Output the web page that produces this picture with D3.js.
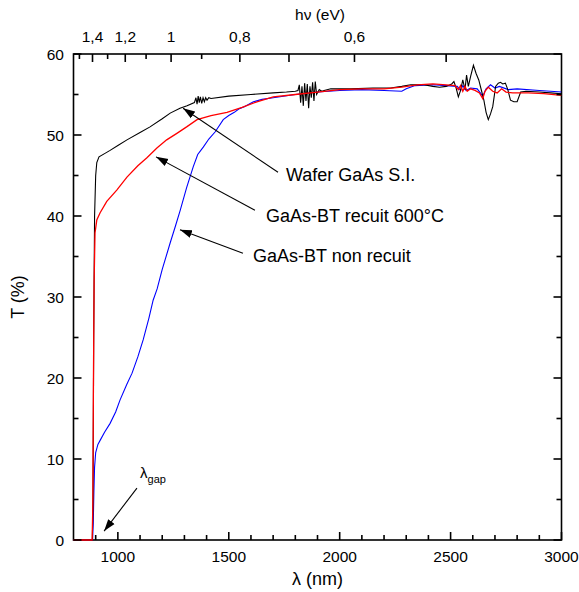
<!DOCTYPE html>
<html><head><meta charset="utf-8">
<script src="https://cdn.jsdelivr.net/npm/d3@7"></script>
<style>body{margin:0;background:#fff}svg{font-family:"Liberation Sans",Arial,sans-serif}</style>
</head><body><svg id="c" width="579" height="592"></svg>
<script>
// ---- data ----
const waferLambda = [800,885,888,891,895,900,905,915,940,965,1000,1041,1100,1145,1200,1236,1280,1312,1345,1352,1357,1362,1367,1372,1378,1384,1390,1396,1402,1410,1420,1500,1600,1700,1760,1800,1812,1818,1824,1830,1836,1842,1848,1854,1860,1866,1872,1878,1884,1890,1896,1902,1908,1914,1920,1930,1960,2050,2150,2230,2280,2320,2380,2420,2450,2480,2505,2515,2525,2535,2545,2555,2565,2572,2580,2590,2603,2615,2627,2640,2650,2660,2670,2680,2690,2703,2715,2725,2735,2747,2758,2770,2785,2800,2816,2840,2900,2950,3000];
const waferT =      [0,0,5,25,40,45,46.6,47.3,47.7,48.1,48.7,49.4,50.3,51.0,52.0,52.7,53.3,53.6,54.0,54.6,53.8,54.8,54.0,54.7,53.9,54.6,54.1,54.6,54.3,54.6,54.5,54.8,55.0,55.2,55.3,55.4,55.5,56.2,54.0,56.0,53.6,56.4,54.2,56.3,53.3,56.0,54.6,56.5,54.2,56.6,55.0,55.3,55.6,55.5,55.4,55.5,55.7,55.7,55.8,55.8,56.0,56.2,56.2,56.0,55.9,56.0,56.3,56.6,55.8,54.7,55.5,56.8,55.6,57.4,56.0,57.2,58.6,57.6,56.8,55.4,54.3,52.8,51.9,52.6,53.5,56.0,56.4,56.5,56.3,56.4,55.6,54.3,54.1,54.1,55.3,55.4,55.3,55.2,55.1];
const recuitLambda = [800,884,887,890,893,897,905,920,950,995,1041,1090,1131,1176,1220,1266,1310,1357,1420,1492,1560,1627,1700,1800,1900,2000,2100,2200,2280,2350,2420,2480,2520,2535,2545,2555,2565,2575,2590,2610,2630,2645,2655,2670,2690,2710,2730,2750,2780,2850,2920,3000];
const recuitT =      [0,0,4,20,32,37.9,39.5,40.4,41.8,43.2,44.8,46.2,47.2,48.4,49.4,50.2,51.0,51.9,52.4,52.8,53.4,54.1,54.7,55.0,55.3,55.6,55.7,55.7,55.9,56.2,56.3,56.2,56.1,55.6,56.1,55.4,56.0,55.4,55.7,55.5,55.2,54.5,55.4,55.9,55.4,55.2,55.7,55.3,55.2,55.2,55.1,54.9];
const nonRecuitLambda = [800,886,889,892,895,900,910,920,940,965,990,1010,1040,1064,1090,1114,1140,1159,1177,1200,1236,1260,1281,1310,1340,1360,1385,1410,1439,1475,1500,1525,1545,1570,1611,1650,1700,1800,1900,2000,2100,2200,2280,2300,2340,2420,2480,2530,2545,2555,2570,2590,2620,2645,2660,2680,2700,2720,2760,2800,2900,3000];
const nonRecuitT =      [0,0,2,6,9,10.8,11.8,12.3,13.3,14.4,15.8,17.3,19.2,20.6,22.6,24.7,27.4,29.6,31.0,33.4,36.7,38.8,40.7,43.5,46.1,47.6,48.5,49.5,50.4,51.9,52.4,52.8,53.2,53.5,54.1,54.4,54.6,55.0,55.3,55.5,55.6,55.5,55.4,55.7,56.1,56.2,56.1,56.0,55.5,56.1,55.5,55.8,55.7,54.8,55.7,56.2,55.8,56.0,55.6,55.7,55.5,55.3];
const xMajorTicks = [1000,1500,2000,2500,3000];
const xMinorTicks = [900,1100,1200,1300,1400,1600,1700,1800,1900,2100,2200,2300,2400,2600,2700,2800,2900];
const yMajorTicks = [0,10,20,30,40,50,60];
const yMinorTicks = [5,15,25,35,45,55];
const evLabelled = [1.4,1.2,1.0,0.8,0.6];
const evLongUnlabelled = [0.7,0.5];
const evMinor = [1.5,1.3,1.1,0.9];
const labels = [
  {text:"Wafer GaAs S.I.", lx:1758, lT:44.3, tail:[1722,45.4], tip:[1294,53.3]},
  {text:"GaAs-BT recuit 600°C", lx:1668, lT:39.3, tail:[1618,40.7], tip:[1172,47.3]},
  {text:"GaAs-BT non recuit", lx:1609, lT:34.3, tail:[1564,35.4], tip:[1280,38.3]}
];
const gapLabel = {lx:1100, lT:7.65, tail:[1086,6.4], tip:[938,1.1]};

// ---- scales ----
const L=73.5,R=561.5,T=54,B=540;
const x=d3.scaleLinear([800,3000],[L,R]);
const y=d3.scaleLinear([0,60],[B,T]);
const svg=d3.select("#c");
const fs=15.5;
const defs=svg.append("defs");
defs.append("clipPath").attr("id","clip").append("rect")
  .attr("x",L-1).attr("y",T).attr("width",R-L+1).attr("height",B-T+1);
const mk=defs.append("marker").attr("id","ah").attr("markerUnits","userSpaceOnUse")
  .attr("markerWidth",14).attr("markerHeight",10).attr("refX",12).attr("refY",4).attr("orient","auto")
  .attr("viewBox","0 0 14 8");
mk.append("path").attr("d","M0,0 L12,4 L0,8 Z").attr("fill","#000");

// frame
svg.append("rect").attr("x",L).attr("y",T).attr("width",R-L).attr("height",B-T)
  .attr("fill","none").attr("stroke","#000").attr("stroke-width",1.6);

// tick labels
const tl=svg.append("g").attr("font-size",fs).attr("fill","#000");
tl.selectAll("text.xl").data(xMajorTicks).enter().append("text").attr("x",d=>x(d)).attr("y",562).attr("text-anchor","middle").text(d3.format("d"));
tl.selectAll("text.yl").data(yMajorTicks).enter().append("text").attr("x",64).attr("y",d=>y(d)+5.5).attr("text-anchor","end").text(d=>d);
const ev=e=>x(1240/e);
tl.selectAll("text.el").data(evLabelled).enter().append("text").attr("x",ev).attr("y",42).attr("text-anchor","middle")
  .text(e=>d3.format("~g")(e).replace(".",","));

// lines
const line=(xs,ys)=>d3.line().x((d,i)=>x(xs[i])).y((d,i)=>y(ys[i]))(xs);
const g=svg.append("g").attr("clip-path","url(#clip)");
g.append("path").attr("d",line(nonRecuitLambda,nonRecuitT)).attr("fill","none").attr("stroke","#0000ff").attr("stroke-width",1.1);
g.append("path").attr("d",line(waferLambda,waferT)).attr("fill","none").attr("stroke","#000").attr("stroke-width",1.1);
g.append("path").attr("d",line(recuitLambda,recuitT)).attr("fill","none").attr("stroke","#ff0000").attr("stroke-width",1.3);

// axis titles
svg.append("text").attr("x",(L+R)/2).attr("y",585).attr("text-anchor","middle").attr("font-size",18).text("λ (nm)");
svg.append("text").attr("transform",`translate(24,297) rotate(-90)`).attr("text-anchor","middle").attr("font-size",18).text("T (%)");
svg.append("text").attr("x",320).attr("y",20).attr("text-anchor","middle").attr("font-size",fs).text("hν (eV)");

// annotations
labels.forEach(a=>{
  svg.append("line").attr("x1",x(a.tail[0])).attr("y1",y(a.tail[1])).attr("x2",x(a.tip[0])).attr("y2",y(a.tip[1]))
    .attr("stroke","#000").attr("stroke-width",1.1).attr("marker-end","url(#ah)");
  svg.append("text").attr("x",x(a.lx)).attr("y",y(a.lT)).attr("font-size",18).text(a.text);
});
svg.append("line").attr("x1",x(gapLabel.tail[0])).attr("y1",y(gapLabel.tail[1])).attr("x2",x(gapLabel.tip[0])).attr("y2",y(gapLabel.tip[1]))
  .attr("stroke","#000").attr("stroke-width",1.1).attr("marker-end","url(#ah)");
const gt=svg.append("text").attr("x",x(gapLabel.lx)).attr("y",y(gapLabel.lT)).attr("font-size",15);
gt.append("tspan").text("λ");
gt.append("tspan").attr("font-size",11).attr("dy",5).text("gap");

// ticks (inward), from scales, drawn last
const tk=svg.append("g").attr("stroke","#000").attr("stroke-width",1.6);
function vt(vals,px,y0,len){vals.forEach(v=>tk.append("line").attr("x1",px(v)).attr("x2",px(v)).attr("y1",y0).attr("y2",y0+len));}
function ht(vals,py,x0,len){vals.forEach(v=>tk.append("line").attr("y1",py(v)).attr("y2",py(v)).attr("x1",x0).attr("x2",x0+len));}
vt(xMajorTicks,x,B,-8); vt(xMinorTicks,x,B,-5);
ht(yMajorTicks,y,L,8); ht(yMinorTicks,y,L,5);
ht(yMajorTicks,y,R,-8); ht(yMinorTicks,y,R,-5);
vt(evLabelled,ev,T,8); vt(evLongUnlabelled,ev,T,8); vt(evMinor,ev,T,5);
</script></body></html>
